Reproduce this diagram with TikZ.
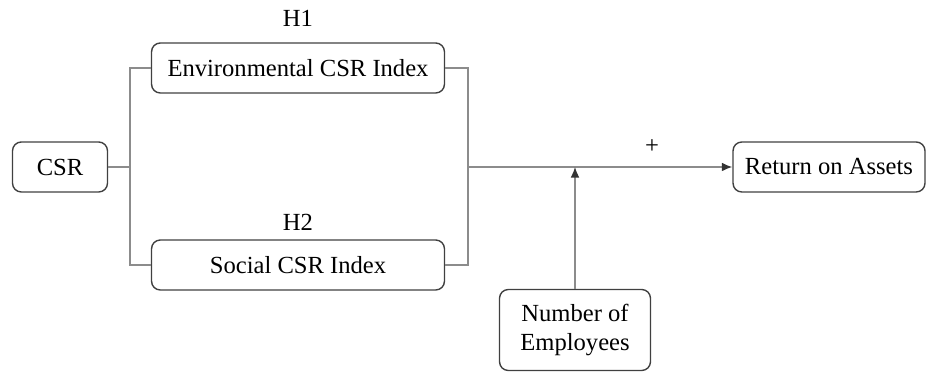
\documentclass[tikz,border=0pt]{standalone}
\usepackage{fontspec}
\setmainfont{Liberation Serif}
\usetikzlibrary{shapes, arrows.meta, positioning}

\begin{document}
\begin{tikzpicture}[x=0.02cm, y=-0.02cm, font=\fontsize{14}{16.5}\selectfont,
    box/.style={draw=black!75, rectangle, rounded corners=5pt, thick, align=center, inner sep=2pt},
    link/.style={draw=black!45, thick},
    tip/.style={-{Latex[length=6pt, width=5pt, black!80]}}]
    \useasboundingbox (0,0) rectangle (936,374);
    % CSR model
    \node (csr) [box, minimum width=1.9cm, minimum height=1cm] at (60,167) {CSR};
    \node (env) [box, minimum width=5.86cm, minimum height=1cm] at (298,68) {Environmental CSR Index};
    \node (soc) [box, minimum width=5.86cm, minimum height=1cm] at (298,265) {Social CSR Index};
    \node (roa) [box, minimum width=3.84cm, minimum height=1cm] at (829,167) {Return on Assets};
    \node (emp) [box, minimum width=3.02cm, minimum height=1.62cm] at (575,330) {Number of\\Employees};
    \node (h1) at (298,18) {H1};
    \node (h2) at (298,222) {H2};
    \node (plus) at (652,147) {+};
    \coordinate (lj) at (130,167);
    \coordinate (rj) at (468,167);
    \coordinate (mod) at (575,167);
    \draw[link] (csr) -- (lj);
    \draw[link] (env.west) -| (lj) |- (soc.west);
    \draw[link] (env.east) -| (rj) |- (soc.east);
    \draw[link, tip] (rj) -- (roa);
    \draw[link, tip] (emp) -- (mod);
\end{tikzpicture}
\end{document}
